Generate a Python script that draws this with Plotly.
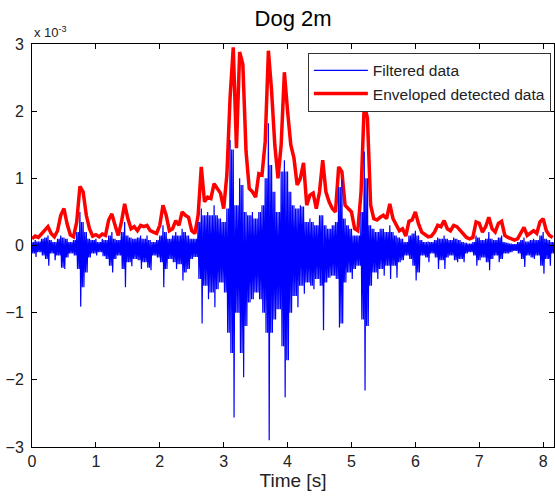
import numpy as np
import plotly.graph_objects as go

dt = 0.05

# Envelope (red), values in units of 1e-3
envelope = [
    0.10, 0.14, 0.12, 0.18, 0.22, 0.28, 0.18, 0.13, 0.22, 0.45,
    0.55, 0.32, 0.16, 0.13, 0.35, 0.88, 0.80, 0.45, 0.25, 0.14,
    0.16, 0.13, 0.17, 0.15, 0.38, 0.47, 0.30, 0.15, 0.35, 0.62,
    0.40, 0.25, 0.28, 0.22, 0.30, 0.28, 0.30, 0.22, 0.20, 0.18,
    0.30, 0.60, 0.45, 0.22, 0.25, 0.37, 0.30, 0.50, 0.45, 0.42,
    0.22, 0.18, 0.45, 1.17, 0.65, 0.72, 0.70, 0.92, 0.85, 0.78,
    0.55, 1.05, 2.20, 2.95, 1.45, 2.88, 2.70, 1.40, 0.85, 0.80,
    0.72, 1.07, 1.05, 1.55, 2.90, 2.30, 1.50, 1.00, 1.50, 2.58,
    2.00, 1.50, 1.30, 0.90, 1.00, 1.23, 0.60, 0.75, 0.78, 0.55,
    0.80, 1.27, 0.80, 0.65, 0.55, 0.50, 1.17, 1.10, 0.60, 0.55,
    0.50, 0.25, 0.22, 0.80, 2.10, 1.90, 0.60, 0.40, 0.38, 0.42,
    0.45, 0.40, 0.62, 0.40, 0.30, 0.22, 0.25, 0.14, 0.36, 0.38,
    0.50, 0.32, 0.20, 0.17, 0.13, 0.14, 0.20, 0.30, 0.28, 0.37,
    0.25, 0.22, 0.30, 0.28, 0.22, 0.18, 0.12, 0.10, 0.12, 0.35,
    0.33, 0.20, 0.28, 0.42, 0.25, 0.20, 0.33, 0.36, 0.15, 0.12,
    0.10, 0.08, 0.10, 0.20, 0.27, 0.15, 0.18, 0.22, 0.18, 0.35,
    0.40, 0.22, 0.15, 0.12,
]

# Filtered signal (blue): local maximum and minimum in each step, units of 1e-3
filtered_high = [
    0.05, 0.08, 0.06, 0.10, 0.12, 0.15, 0.08, 0.05, 0.10, 0.15,
    0.12, 0.10, 0.05, 0.08, 0.20, 0.50, 0.35, 0.20, 0.10, 0.08,
    0.10, 0.05, 0.10, 0.08, 0.15, 0.20, 0.10, 0.08, 0.20, 0.35,
    0.15, 0.12, 0.10, 0.12, 0.15, 0.10, 0.15, 0.08, 0.05, 0.08,
    0.15, 0.30, 0.20, 0.10, 0.15, 0.20, 0.15, 0.25, 0.20, 0.15,
    0.10, 0.10, 0.35, 0.55, 0.45, 0.50, 0.45, 0.60, 0.45, 0.40,
    0.35, 0.55, 1.57, 1.43, 0.60, 1.00, 0.90, 0.50, 0.45, 0.50,
    0.40, 0.50, 0.60, 1.00, 1.82, 1.20, 0.80, 0.50, 1.10, 1.27,
    1.10, 0.80, 0.60, 0.55, 0.60, 0.58, 0.35, 0.40, 0.35, 0.30,
    0.45, 0.45, 0.30, 0.25, 0.30, 0.35, 0.87, 0.98, 0.40, 0.30,
    0.25, 0.15, 0.15, 0.50, 1.40, 1.00, 0.30, 0.25, 0.20, 0.25,
    0.25, 0.20, 0.30, 0.20, 0.15, 0.12, 0.10, 0.05, 0.15, 0.18,
    0.22, 0.15, 0.08, 0.05, 0.06, 0.05, 0.08, 0.12, 0.10, 0.15,
    0.10, 0.08, 0.12, 0.10, 0.08, 0.05, 0.04, 0.03, 0.05, 0.15,
    0.12, 0.08, 0.10, 0.20, 0.10, 0.08, 0.12, 0.15, 0.05, 0.04,
    0.03, 0.02, 0.05, 0.08, 0.12, 0.06, 0.08, 0.10, 0.08, 0.15,
    0.20, 0.10, 0.08, 0.05,
]

filtered_low = [
    -0.12, -0.17, -0.10, -0.15, -0.20, -0.30, -0.12, -0.22, -0.15, -0.33,
    -0.35, -0.18, -0.12, -0.15, -0.35, -0.91, -0.62, -0.40, -0.18, -0.12,
    -0.15, -0.10, -0.16, -0.20, -0.30, -0.40, -0.20, -0.15, -0.35, -0.62,
    -0.25, -0.31, -0.20, -0.22, -0.35, -0.25, -0.33, -0.37, -0.15, -0.18,
    -0.25, -0.62, -0.35, -0.20, -0.25, -0.35, -0.28, -0.52, -0.40, -0.35,
    -0.20, -0.17, -0.50, -1.16, -0.60, -0.80, -0.70, -0.92, -0.65, -0.55,
    -0.70, -1.30, -1.60, -2.56, -1.00, -1.60, -1.96, -1.20, -0.85, -0.80,
    -0.70, -0.80, -1.00, -1.30, -2.90, -1.30, -1.10, -0.95, -1.50, -2.26,
    -1.71, -1.00, -0.75, -0.92, -0.60, -0.72, -0.55, -0.60, -0.65, -0.50,
    -0.60, -1.26, -0.55, -0.48, -0.45, -0.50, -1.22, -1.16, -0.55, -0.40,
    -0.50, -0.35, -0.30, -1.10, -2.16, -1.20, -0.60, -0.40, -0.50, -0.35,
    -0.45, -0.30, -0.50, -0.30, -0.48, -0.25, -0.22, -0.15, -0.20, -0.30,
    -0.52, -0.40, -0.15, -0.18, -0.25, -0.12, -0.18, -0.35, -0.22, -0.35,
    -0.18, -0.15, -0.22, -0.25, -0.20, -0.25, -0.12, -0.10, -0.15, -0.30,
    -0.22, -0.18, -0.25, -0.37, -0.20, -0.15, -0.25, -0.20, -0.12, -0.12,
    -0.10, -0.08, -0.12, -0.20, -0.32, -0.15, -0.18, -0.20, -0.15, -0.30,
    -0.42, -0.20, -0.30, -0.12,
]

x_ticks = [0, 1, 2, 3, 4, 5, 6, 7, 8]
y_ticks = [-3, -2, -1, 0, 1, 2, 3]

n = len(envelope)
time = np.round(np.arange(n) * dt, 4)

# Blue trace drawn as a dense zigzag: within each step, one full swing to the
# step's extremes, then a second swing limited to what the next step shares.
hi = np.asarray(filtered_high)
lo = np.asarray(filtered_low)
hi_next = np.append(hi[1:], hi[-1])
lo_next = np.append(lo[1:], lo[-1])
hi2 = np.minimum(hi, hi_next)
lo2 = np.maximum(lo, lo_next)
blue_x = np.empty(4 * n)
blue_y = np.empty(4 * n)
blue_x[0::4] = time
blue_x[1::4] = time + dt / 4
blue_x[2::4] = time + dt / 2
blue_x[3::4] = time + 3 * dt / 4
blue_y[0::4] = hi
blue_y[1::4] = lo
blue_y[2::4] = hi2
blue_y[3::4] = lo2

FONT = "Liberation Sans, Arial, Helvetica, sans-serif"

fig = go.Figure()
fig.add_trace(go.Scatter(
    x=time, y=envelope, mode="lines", name="Enveloped detected data",
    line=dict(color="#FF0000", width=3.5), legendrank=2,
))
fig.add_trace(go.Scatter(
    x=blue_x, y=blue_y, mode="lines", name="Filtered data",
    line=dict(color="#0000FF", width=1.2), legendrank=1,
))

axis_common = dict(
    showgrid=False, zeroline=False, showline=True, linecolor="black",
    linewidth=1, mirror="ticks", ticks="inside", ticklen=5,
    tickcolor="black", automargin=False,
    tickfont=dict(family=FONT, size=16, color="#222"),
)

fig.update_layout(
    width=555, height=500,
    margin=dict(l=32, r=1, t=44, b=53),
    paper_bgcolor="white", plot_bgcolor="white",
    title=dict(text="Dog 2m", x=0.528, xanchor="center", y=0.964, yanchor="middle",
               font=dict(family=FONT, size=22, color="black")),
    xaxis=dict(range=[0, 8.17], tickvals=x_ticks,
               title=dict(text="Time [s]", font=dict(family=FONT, size=19, color="#222"), standoff=4),
               **axis_common),
    yaxis=dict(range=[-3, 3], tickvals=y_ticks, ticklabelstandoff=4, **axis_common),
    legend=dict(x=0.994, y=0.978, xanchor="right", yanchor="top",
                bordercolor="#333", borderwidth=1, bgcolor="white",
                font=dict(family=FONT, size=15.5, color="#222"),
                tracegroupgap=0, itemwidth=54),
    showlegend=True,
)

fig.add_annotation(
    text="x 10<sup>-3</sup>", xref="paper", yref="paper", x=0.0, y=1.0,
    xanchor="left", yanchor="bottom", showarrow=False, yshift=2,
    font=dict(family=FONT, size=13, color="#222"),
)

fig.write_html("out.html", config={"displayModeBar": False},
               post_script="document.body.style.margin='0';")
